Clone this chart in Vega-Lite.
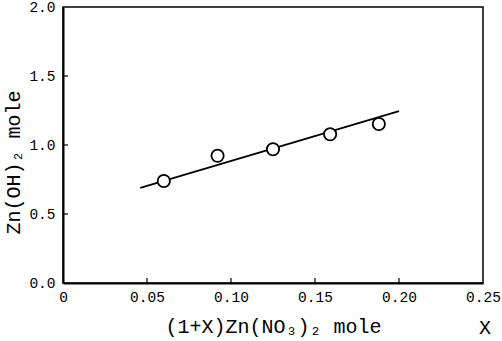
{
  "$schema": "https://vega.github.io/schema/vega-lite/v6.json",
  "autosize": {"type": "none"},
  "width": 420,
  "height": 276,
  "padding": {"left": 63, "top": 7, "right": 19, "bottom": 58},
  "background": "white",
  "config": {
    "view": {"stroke": "black", "strokeWidth": 1.5},
    "font": "Liberation Mono",
    "axis": {
      "grid": false,
      "zindex": 1,
      "domainColor": "black",
      "domainWidth": 2,
      "ticks": false,
      "labelColor": "black",
      "titleColor": "black",
      "labelFont": "Liberation Mono",
      "titleFont": "Liberation Mono",
      "labelFontSize": 14.5,
      "titleFontSize": 20,
      "labelFontWeight": "normal",
      "titleFontWeight": "normal",
      "labelFlush": false,
      "labelOverlap": false
    }
  },
  "datasets": {
    "points": [
      {"x": 0.060, "y": 0.739},
      {"x": 0.092, "y": 0.922},
      {"x": 0.125, "y": 0.969},
      {"x": 0.159, "y": 1.078},
      {"x": 0.188, "y": 1.152}
    ],
    "fit": [
      {"x": 0.046, "y": 0.690},
      {"x": 0.200, "y": 1.246}
    ],
    "xticks": [{"x": 0.05}, {"x": 0.10}, {"x": 0.15}, {"x": 0.20}],
    "yticks": [{"y": 0.5}, {"y": 1.0}, {"y": 1.5}],
    "extra": [
      {"x": 0.25, "y": -0.326, "label": "X"}
    ]
  },
  "layer": [
    {
      "data": {"name": "fit"},
      "mark": {"type": "line", "color": "black", "strokeWidth": 1.8},
      "encoding": {
        "x": {
          "field": "x", "type": "quantitative",
          "scale": {"domain": [0, 0.25], "nice": false, "zero": false},
          "axis": {
            "values": [0, 0.05, 0.1, 0.15, 0.2, 0.25],
            "labelExpr": "datum.value == 0 ? '0' : format(datum.value, '.2f')",
            "labelPadding": 7,
            "title": "(1+X)Zn(NO₃)₂  mole",
            "titleY": 33
          }
        },
        "y": {
          "field": "y", "type": "quantitative",
          "scale": {"domain": [0, 2], "nice": false},
          "axis": {
            "values": [0, 0.5, 1, 1.5, 2],
            "format": ".1f",
            "labelPadding": 8,
            "title": "Zn(OH)₂  mole",
            "titleX": -40,
            "titleY": 155
          }
        }
      }
    },
    {
      "data": {"name": "xticks"},
      "mark": {"type": "rule", "color": "black", "strokeWidth": 1.2},
      "encoding": {
        "x": {"field": "x", "type": "quantitative"},
        "y": {"datum": 0},
        "y2": {"datum": 0.036}
      }
    },
    {
      "data": {"name": "yticks"},
      "mark": {"type": "rule", "color": "black", "strokeWidth": 1.2},
      "encoding": {
        "y": {"field": "y", "type": "quantitative"},
        "x": {"datum": 0},
        "x2": {"datum": 0.003}
      }
    },
    {
      "data": {"name": "points"},
      "mark": {"type": "point", "shape": "circle", "filled": true, "fill": "white", "stroke": "black", "strokeWidth": 1.8, "size": 150, "opacity": 1},
      "encoding": {
        "x": {"field": "x", "type": "quantitative"},
        "y": {"field": "y", "type": "quantitative"}
      }
    },
    {
      "data": {"name": "extra"},
      "mark": {"type": "text", "font": "Liberation Mono", "fontSize": 20, "color": "black", "baseline": "middle", "align": "center", "dx": 2},
      "encoding": {
        "x": {"field": "x", "type": "quantitative"},
        "y": {"field": "y", "type": "quantitative"},
        "text": {"field": "label"}
      }
    }
  ]
}
